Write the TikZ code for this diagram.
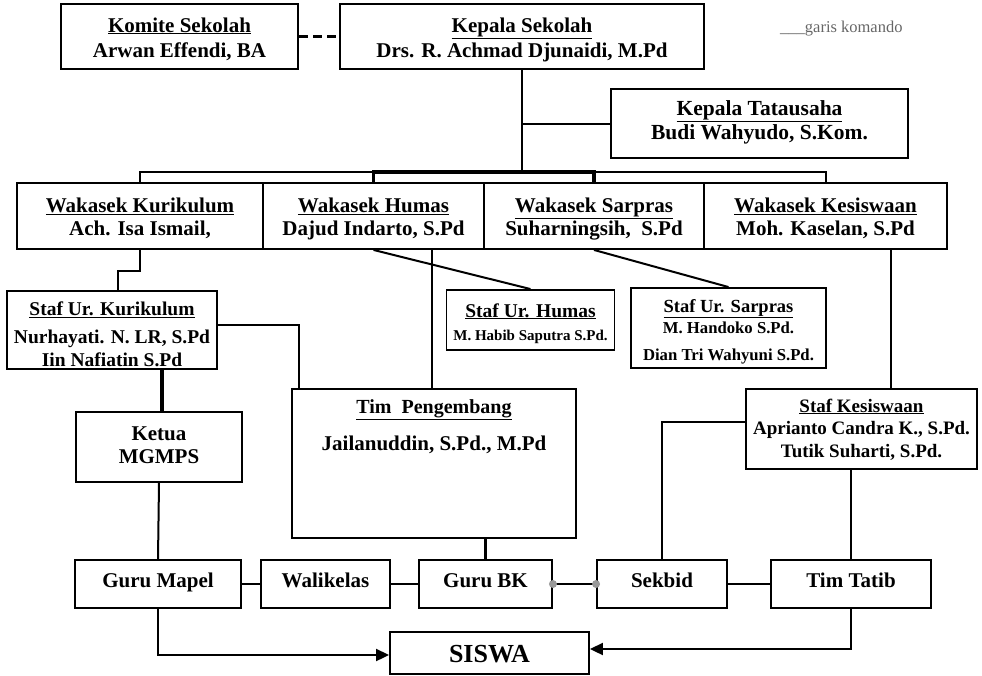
\documentclass[tikz,border=0pt]{standalone}
\usepackage{fontspec}
\setmainfont{Liberation Serif}
\usetikzlibrary{arrows.meta}
\definecolor{dotgray}{gray}{0.6}
\definecolor{notegray}{gray}{0.4}
\newcommand{\fs}[2]{\fontsize{#1}{#2}\selectfont}
\newcommand{\up}[1]{\rule{0pt}{#1pt}}
\newcommand{\dn}[1]{\rule[-#1pt]{0pt}{#1pt}}
\tikzset{
	box/.style={draw, line width=1.9pt, inner sep=0pt, align=center, font=\bfseries\fs{21}{23}},
	topbox/.style={box, line width=2.5pt},
	link/.style={line width=2pt},
	boldlink/.style={line width=3.5pt},
	arr/.style={link, -{Triangle[length=13pt,width=12pt]}},
}
\begin{document}
\begin{tikzpicture}[x=1pt,y=-1pt]
		\useasboundingbox (0,0) rectangle (982,675);
		\node[topbox, minimum width=237, minimum height=65, font=\bfseries\fs{21}{25}] (komite) at (179.5,36.5) {\up{22}\underline{Komite Sekolah}\\Arwan Effendi, BA\dn{6}};
		\node[topbox, minimum width=364, minimum height=65, font=\bfseries\fs{21}{25}] (kepsek) at (522,36.5) {\up{22}\underline{Kepala Sekolah}\\Drs. R. Achmad Djunaidi, M.Pd\dn{6}};
		\node[topbox, minimum width=297, minimum height=69, font=\bfseries\fs{21.5}{24}] (ktu) at (759.5,123.5) {\up{15}\underline{Kepala Tatausaha}\\Budi Wahyudo, S.Kom.\dn{8}};
		\node[anchor=base west, inner sep=0pt, text=notegray, font=\fs{16.5}{18}] (note) at (780,32) {\_\_\_garis komando};
		\node[box, minimum width=246, minimum height=66] (wkur) at (140,216) {\up{21}\underline{Wakasek Kurikulum}\\Ach. Isa Ismail,\dn{6}};
		\node[box, minimum width=221, minimum height=66] (whum) at (373.5,216) {\up{21}\underline{Wakasek Humas}\\Dajud Indarto, S.Pd\dn{6}};
		\node[box, minimum width=220, minimum height=66] (wsar) at (594,216) {\up{21}\underline{Wakasek Sarpras}\\Suharningsih,\ \ S.Pd\dn{6}};
		\node[box, minimum width=243, minimum height=66] (wkes) at (825.5,216) {\up{21}\underline{Wakasek Kesiswaan}\\Moh. Kaselan, S.Pd\dn{6}};
		\node[box, minimum width=210, minimum height=78, font=\bfseries\fs{19.5}{23}] (skur) at (112,330) {\up{23}\underline{Staf Ur. Kurikulum}\\[5pt]Nurhayati. N. LR, S.Pd\\Iin Nafiatin S.Pd};
		\node[box, minimum width=168, minimum height=60, font=\bfseries\fs{19.5}{22}] (shum) at (530.5,320) {\up{21}\underline{Staf Ur. Humas}\\[1pt]{\fs{15}{17}M. Habib Saputra S.Pd.}\dn{4}};
		\node[box, minimum width=195, minimum height=80, font=\bfseries\fs{18.5}{21}] (ssar) at (728.5,328) {\up{21}\underline{Staf Ur. Sarpras}\\{\fs{16.7}{20}M. Handoko S.Pd.}\\[6pt]{\fs{16.7}{20}Dian Tri Wahyuni S.Pd.}\dn{5}};
		\node[box, minimum width=231, minimum height=80, font=\bfseries\fs{19}{22.5}] (skes) at (861.5,429) {\up{16}\underline{Staf Kesiswaan}\\Aprianto Candra K., S.Pd.\\Tutik Suharti, S.Pd.\dn{5}};
		\node[box, minimum width=284, minimum height=149] (tpeng) at (434,463.5) {{\fs{20}{23}\underline{Tim\ \ Pengembang}}\up{16}\\[14pt]Jailanuddin, S.Pd., M.Pd\dn{80}};
		\node[box, minimum width=166, minimum height=70] (mgmps) at (159,447) {\up{16}Ketua\\MGMPS\dn{7}};
		\node[box, minimum width=166, minimum height=48] (gmapel) at (158,584) {\up{16}Guru Mapel\dn{10}};
		\node[box, minimum width=129, minimum height=48] (wali) at (325.5,584) {\up{16}Walikelas\dn{10}};
		\node[box, minimum width=133, minimum height=48] (gbk) at (485.5,584) {\up{16}Guru BK\dn{10}};
		\node[box, minimum width=130, minimum height=48] (sekbid) at (662,584) {\up{16}Sekbid\dn{10}};
		\node[box, minimum width=160, minimum height=48] (tatib) at (851,584) {\up{16}Tim Tatib\dn{10}};
		\node[box, minimum width=199, minimum height=42, font=\bfseries\fs{26}{28}] (siswa) at (489.5,653) {\up{20}SISWA};
		\coordinate (bus) at (522,172);
		\draw[link, line width=3pt, dash pattern=on 9pt off 5pt] (komite.east) -- (kepsek.west);
		\draw[link] (kepsek.south) -- (bus);
		\draw[link] (kepsek.south |- ktu.west) -- (ktu.west);
		\draw[link] (wkur.north) -- (wkur.north |- bus) -- (wkes.north |- bus) -- (wkes.north);
		\draw[boldlink] (whum.north) -- (whum.north |- bus) -- (wsar.north |- bus) -- (wsar.north);
		\draw[link] (wkur.south) -- ++(0,21) -| ([xshift=6pt]skur.north);
		\draw[link] (whum.south) -- (shum.north);
		\draw[link] (wsar.south) -- (ssar.north);
		\draw[link] ([xshift=58pt]whum.south) -- ([xshift=58pt]whum.south |- tpeng.north);
		\draw[link] ([xshift=65pt]wkes.south) -- ([xshift=65pt]wkes.south |- skes.north);
		\draw[link] ([yshift=5pt]skur.east) -| ([xshift=8pt]tpeng.north west);
		\draw[boldlink] ([xshift=3pt]mgmps.north) -- ([xshift=3pt]mgmps.north |- skur.south);
		\draw[link] (mgmps.south) -- (gmapel.north);
		\draw[link] (gmapel.east) -- (wali.west);
		\draw[link] (wali.east) -- (gbk.west);
		\draw[boldlink] (gbk.north) -- (gbk.north |- tpeng.south);
		\draw[link] (gbk.east) -- (sekbid.west);
		\fill[dotgray] (gbk.east) circle (4pt) (sekbid.west) circle (4pt);
		\draw[link] (sekbid.east) -- (tatib.west);
		\draw[link] (sekbid.north) |- ([yshift=7pt]skes.west);
		\draw[link] (tatib.north |- skes.south) -- (tatib.north);
		\draw[arr] (tatib.south) |- ([yshift=4pt]siswa.east);
		\draw[arr] (gmapel.south) |- ([yshift=-2pt]siswa.west);
	\end{tikzpicture}
\end{document}
